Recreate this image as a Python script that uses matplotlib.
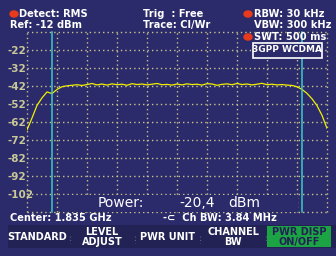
import numpy as np
import matplotlib
matplotlib.use("Agg")
import matplotlib.pyplot as plt
from matplotlib.patches import Rectangle

# ---- data ----
center_mhz = 1835.0
span_mhz = 4.608
ch_bw_mhz = 3.84
ref_dbm = -12
div_db = 10
y_ticks = [-112, -102, -92, -82, -72, -62, -52, -42, -32, -22, -12]
y_labels = ["", "-102", "-92", "-82", "-72", "-62", "-52", "-42", "-32", "-22", ""]
trace_dbm = [
    -66.4, -59.8, -52.8, -48.6, -45.3, -46.2, -43.9, -42.4, -41.9, -41.6,
    -41.3, -41.7, -41.2, -40.6, -41.4, -40.9, -41.5, -40.8, -41.3, -41.0,
    -41.6, -40.7, -41.2, -40.9, -41.4, -41.0, -40.6, -41.3, -41.1, -41.5,
    -40.9, -41.4, -40.8, -41.2, -41.0, -41.5, -40.7, -40.9, -41.6, -41.1,
    -40.8, -41.3, -40.6, -41.2, -40.9, -41.4, -41.0, -40.5, -41.3, -41.0,
    -41.4, -41.2, -41.5, -41.7, -42.4, -43.9, -46.1, -49.1, -52.9, -58.3,
    -65.5,
]
power_dbm = -20.4
softkeys = ["STANDARD", "LEVEL\nADJUST", "PWR UNIT", "CHANNEL\nBW", "PWR DISP\nON/OFF"]

# sweep points across the span
freqs = np.linspace(center_mhz - span_mhz / 2, center_mhz + span_mhz / 2, len(trace_dbm))

BG = '#2b2a6b'
BAR = '#222254'
GRID = '#c8c48c'
WHITE = '#ffffff'
YEL = '#f2f000'
CYAN = '#3cc8c8'
RED = '#e83a1c'
GREEN = '#1ca444'

W, H = 336, 256
fig = plt.figure(figsize=(W / 100, H / 100), dpi=100)
fig.patch.set_facecolor(BG)

def px(x, y):
    # figure pixel coords (top-left origin) -> figure fraction
    return x / W, 1 - y / H

# plot area: x 27..327, y 32..212
ax = fig.add_axes([27 / W, (H - 212) / H, 300 / W, 180 / H])
ax.set_facecolor(BG)
ax.set_xlim(freqs[0], freqs[-1])
ax.set_ylim(ref_dbm - 10 * div_db, ref_dbm)
ax.set_xticks(np.linspace(freqs[0], freqs[-1], 11))
ax.set_yticks(y_ticks)
ax.set_yticklabels(y_labels)
ax.tick_params(axis='x', length=0, labelbottom=False)
ax.tick_params(axis='y', length=0, pad=14, labelsize=7.5, labelcolor='#c8c898')
for lab in ax.get_yticklabels():
    lab.set_ha('left')
    lab.set_fontweight('bold')
for sp in ax.spines.values():
    sp.set_visible(False)
ax.grid(True, color=GRID, linestyle=(0, (1, 2.2)), lw=1.0)
for gl in ax.get_xgridlines() + ax.get_ygridlines():
    gl.set_clip_on(False)

ax.plot(freqs, trace_dbm, color=YEL, lw=0.9, zorder=3)
for f in (center_mhz - ch_bw_mhz / 2, center_mhz + ch_bw_mhz / 2):
    ax.axvline(f, color=CYAN, lw=1.1, zorder=4, clip_on=False)

# header
hdr = dict(color=WHITE, fontsize=7.1, fontweight='bold', va='center', ha='left')
fig.text(*px(19, 14), "Detect: RMS", **hdr)
fig.text(*px(10, 25), "Ref: -12 dBm", **hdr)
fig.text(*px(143, 14), "Trig  : Free", **hdr)
fig.text(*px(143, 25), "Trace: Cl/Wr", **hdr)
fig.text(*px(254, 14), "RBW: 30 kHz", **hdr)
fig.text(*px(254, 25), "VBW: 300 kHz", **hdr)
fig.text(*px(254, 37), "SWT: 500 ms", **hdr)
for dx, dy in ((14, 14), (248, 14), (248, 37)):
    fig.patches.append(plt.Circle(px(dx, dy), 4 / W, transform=fig.transFigure,
                                  color=RED, zorder=5))
fig.patches.append(Rectangle(px(253, 57.5), 69 / W, 15 / H, transform=fig.transFigure,
                             facecolor=BG, edgecolor=WHITE, lw=1.2, zorder=5))
fig.text(*px(287.5, 50), "3GPP WCDMA", color=WHITE, fontsize=6.5,
         fontweight='bold', va='center', ha='center', zorder=6)

# power readout over the grid
fig.patches.append(Rectangle(px(62, 212), 236 / W, 17 / H, transform=fig.transFigure,
                             facecolor=BG, edgecolor='none', zorder=5))
big = dict(color=WHITE, fontsize=10, va='center', ha='left', zorder=6)
fig.text(*px(98, 203), "Power:", **big)
fig.text(*px(179, 203), f"{power_dbm:.1f}".replace('.', ','), **big)
fig.text(*px(228, 203), "dBm", **big)

# footer info line
fig.text(*px(10, 218), f"Center: {center_mhz / 1000:.3f} GHz", **hdr)
fig.text(*px(163, 218), f"-\u2282  Ch BW: {ch_bw_mhz:.2f} MHz", **hdr)

# softkey bar
fig.patches.append(Rectangle(px(8, 248), 328 / W, 23 / H, transform=fig.transFigure,
                             facecolor=BAR, edgecolor='none', zorder=1))
fig.patches.append(Rectangle(px(267, 247), 64 / W, 21 / H, transform=fig.transFigure,
                             facecolor=GREEN, edgecolor='none', zorder=2))
key_x = [37, 102, 167, 233, 299]
for i, (kx, key) in enumerate(zip(key_x, softkeys)):
    col = BAR if i == len(softkeys) - 1 else WHITE
    fig.text(*px(kx, 237), key, color=col, fontsize=7, fontweight='bold',
             ha='center', va='center', linespacing=0.95, zorder=6)
for sx in (70, 135, 200, 266):
    fig.lines.append(plt.Line2D([sx / W, sx / W], [1 - 236 / H, 1 - 243 / H],
                                transform=fig.transFigure, color='#606080',
                                lw=0.8, linestyle=(0, (1, 2)), zorder=3))

fig.savefig('out.png', dpi=100, facecolor=BG)
